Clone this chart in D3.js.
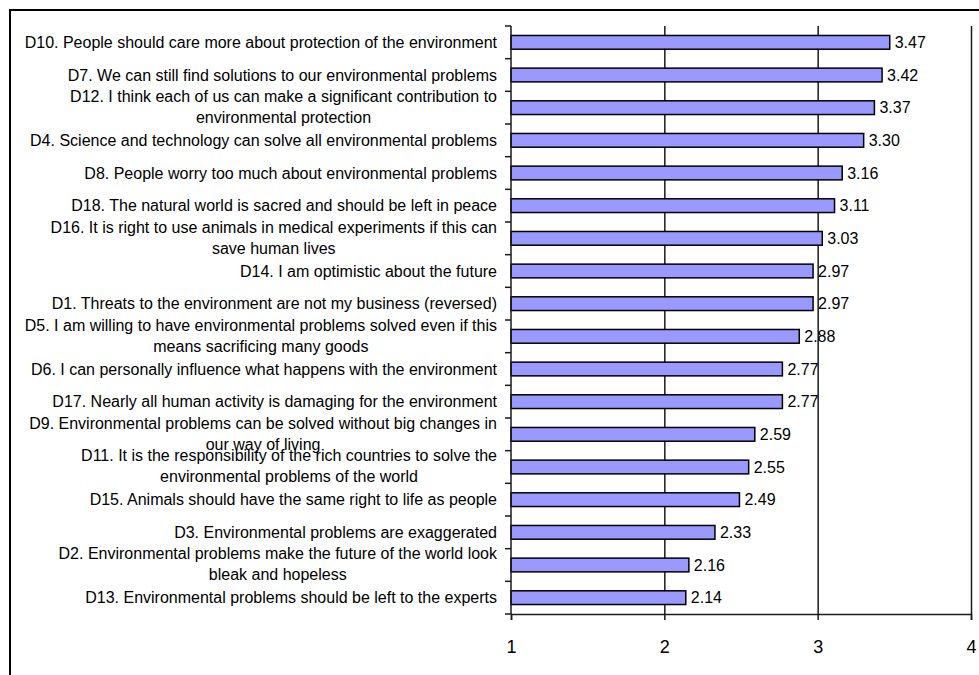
<!DOCTYPE html>
<html>
<head>
<meta charset="utf-8">
<script src="https://cdn.jsdelivr.net/npm/d3@7"></script>
<style>
  html, body { margin: 0; padding: 0; background: #fff; }
  svg { display: block; font-family: "Liberation Sans", Arial, sans-serif; }
</style>
</head>
<body>
<svg id="chart" width="979" height="675"></svg>
<script>
// Statement labels (wrapped lines separated by "\n"), top to bottom
const statements = [
  "D10. People should care more about protection of the environment",
  "D7. We can still find solutions to our environmental problems",
  "D12. I think each of us can make a significant contribution to\nenvironmental protection",
  "D4. Science and technology can solve all environmental problems",
  "D8. People worry too much about environmental problems",
  "D18. The natural world is sacred and should be left in peace",
  "D16. It is right to use animals in medical experiments if this can\nsave human lives",
  "D14. I am optimistic about the future",
  "D1. Threats to the environment are not my business (reversed)",
  "D5. I am willing to have environmental problems solved even if this\nmeans sacrificing many goods",
  "D6. I can personally influence what happens with the environment",
  "D17. Nearly all human activity is damaging for the environment",
  "D9. Environmental problems can be solved without big changes in\nour way of living",
  "D11. It is the responsibility of the rich countries to solve the\nenvironmental problems of the world",
  "D15. Animals should have the same right to life as people",
  "D3. Environmental problems are exaggerated",
  "D2. Environmental problems make the future of the world look\nbleak and hopeless",
  "D13. Environmental problems should be left to the experts"
];

// Mean score per statement
const meanScores = [3.47, 3.42, 3.37, 3.30, 3.16, 3.11, 3.03, 2.97, 2.97, 2.88,
                    2.77, 2.77, 2.59, 2.55, 2.49, 2.33, 2.16, 2.14];

// Score axis ticks
const scoreTicks = [1, 2, 3, 4];

const svg = d3.select("#chart");

// Outer chart frame
svg.append("rect")
  .attr("x", 10).attr("y", 10)
  .attr("width", 1000).attr("height", 700)
  .attr("fill", "none")
  .attr("stroke", "#000")
  .attr("stroke-width", 2);

const plot = { left: 511, right: 971, top: 26, bottom: 614 };

const x = d3.scaleLinear().domain([1, 4]).range([plot.left, plot.right]);
const y = d3.scaleBand()
  .domain(statements)
  .range([plot.top, plot.bottom])
  .paddingInner(0.58)
  .paddingOuter(0.29);

const step = y.step();

// Vertical gridlines
svg.append("g")
  .attr("class", "grid")
  .attr("transform", `translate(0,${plot.bottom})`)
  .call(d3.axisBottom(x).tickValues(scoreTicks.slice(1)).tickSize(-(plot.bottom - plot.top)).tickFormat(""))
  .call(g => g.select(".domain").remove())
  .call(g => g.selectAll("line").attr("stroke", "#1a1a1a").attr("stroke-width", 1.5));

// Bars
svg.append("g")
  .selectAll("rect")
  .data(statements)
  .join("rect")
  .attr("x", x(1))
  .attr("y", d => y(d))
  .attr("width", (d, i) => x(meanScores[i]) - x(1))
  .attr("height", y.bandwidth())
  .attr("fill", "#9999ff")
  .attr("stroke", "#000")
  .attr("stroke-width", 1.5);

// Value labels
const fmt = d3.format(".2f");
svg.append("g")
  .selectAll("text")
  .data(statements)
  .join("text")
  .attr("x", (d, i) => x(meanScores[i]) + 5)
  .attr("y", d => y(d) + y.bandwidth() / 2)
  .attr("dy", "0.36em")
  .attr("font-size", 16)
  .attr("fill", "#000")
  .text((d, i) => fmt(meanScores[i]));

// Category axis: line plus ticks at category boundaries
const boundaries = statements.map(d => y(d) - step * y.paddingInner() / 2).concat([plot.bottom]);
const yAxis = svg.append("g");
yAxis.append("line")
  .attr("x1", plot.left).attr("x2", plot.left)
  .attr("y1", plot.top).attr("y2", plot.bottom)
  .attr("stroke", "#1a1a1a").attr("stroke-width", 1.5);
yAxis.selectAll("line.tick")
  .data(boundaries)
  .join("line")
  .attr("class", "tick")
  .attr("x1", plot.left - 6).attr("x2", plot.left)
  .attr("y1", d => d).attr("y2", d => d)
  .attr("stroke", "#1a1a1a").attr("stroke-width", 1.5);

// Category labels: right-aligned blocks, wrapped lines centred within the block
const labelRight = 497;
const lineGap = 21;
const labels = svg.append("g").attr("font-size", 16).attr("fill", "#000");
statements.forEach(s => {
  const lines = s.split("\n");
  const cy = y(s) + y.bandwidth() / 2;
  const g = labels.append("g");
  const texts = lines.map((ln, k) =>
    g.append("text")
      .attr("y", cy + (k - (lines.length - 1) / 2) * lineGap - (lines.length > 1 ? 1 : 0))
      .attr("dy", "0.36em")
      .text(ln));
  const widths = texts.map(t => t.node().getComputedTextLength());
  const maxW = d3.max(widths);
  texts.forEach(t => t.attr("text-anchor", "middle").attr("x", labelRight - maxW / 2));
});

// Score axis along the bottom
svg.append("g")
  .attr("transform", `translate(0,${plot.bottom})`)
  .call(d3.axisBottom(x).tickValues(scoreTicks).tickSize(6).tickPadding(20).tickFormat(d3.format("d")))
  .call(g => g.select(".domain").attr("stroke", "#1a1a1a").attr("stroke-width", 1.5))
  .call(g => g.selectAll(".tick line").attr("stroke", "#1a1a1a").attr("stroke-width", 1.5))
  .call(g => g.selectAll(".tick text")
    .attr("font-family", "'Liberation Sans', Arial, sans-serif")
    .attr("font-size", 18)
    .attr("fill", "#000"));
</script>
</body>
</html>
